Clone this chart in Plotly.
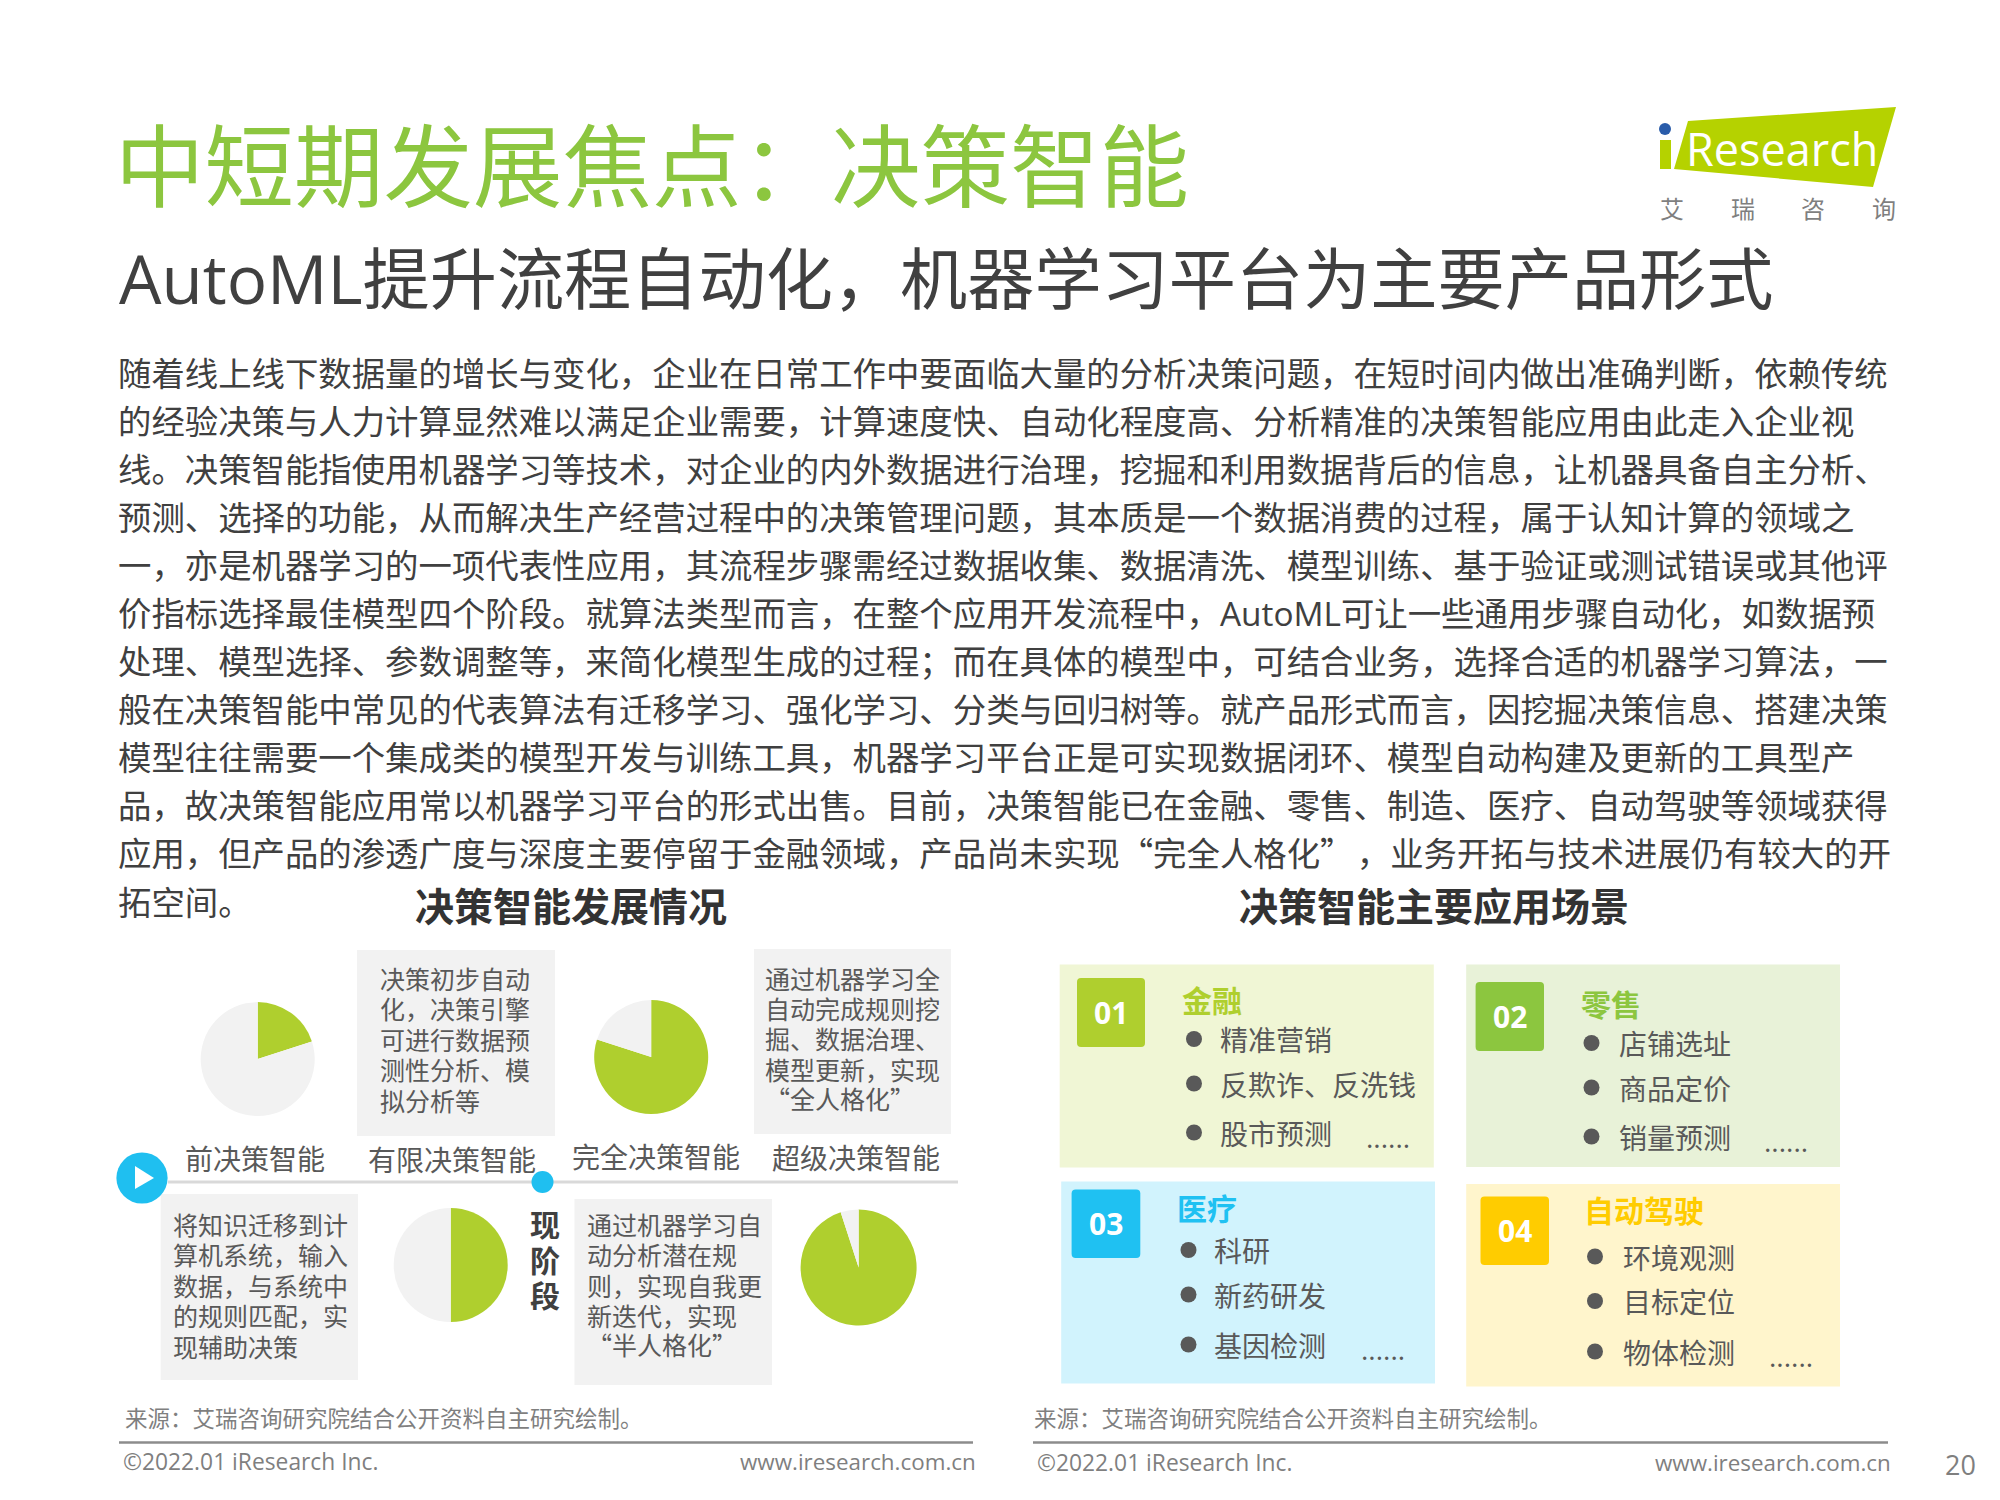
# plot.py - decision intelligence slide, iResearch
import plotly.graph_objects as go

W = 2000
H = 1500
FONT = "Open Sans, Noto Sans CJK SC"
GREEN = "#AFCF2E"
GREY = "#F2F2F2"
TXT = "#404040"
ITEM = "#595959"

title = "中短期发展焦点：决策智能"
subtitle = "AutoML提升流程自动化，机器学习平台为主要产品形式"
body_lines = [
    "随着线上线下数据量的增长与变化，企业在日常工作中要面临大量的分析决策问题，在短时间内做出准确判断，依赖传统",
    "的经验决策与人力计算显然难以满足企业需要，计算速度快、自动化程度高、分析精准的决策智能应用由此走入企业视",
    "线。决策智能指使用机器学习等技术，对企业的内外数据进行治理，挖掘和利用数据背后的信息，让机器具备自主分析、",
    "预测、选择的功能，从而解决生产经营过程中的决策管理问题，其本质是一个数据消费的过程，属于认知计算的领域之",
    "一，亦是机器学习的一项代表性应用，其流程步骤需经过数据收集、数据清洗、模型训练、基于验证或测试错误或其他评",
    "价指标选择最佳模型四个阶段。就算法类型而言，在整个应用开发流程中，AutoML可让一些通用步骤自动化，如数据预",
    "处理、模型选择、参数调整等，来简化模型生成的过程；而在具体的模型中，可结合业务，选择合适的机器学习算法，一",
    "般在决策智能中常见的代表算法有迁移学习、强化学习、分类与回归树等。就产品形式而言，因挖掘决策信息、搭建决策",
    "模型往往需要一个集成类的模型开发与训练工具，机器学习平台正是可实现数据闭环、模型自动构建及更新的工具型产",
    "品，故决策智能应用常以机器学习平台的形式出售。目前，决策智能已在金融、零售、制造、医疗、自动驾驶等领域获得",
    "应用，但产品的渗透广度与深度主要停留于金融领域，产品尚未实现“完全人格化”\u200a，业务开拓与技术进展仍有较大的开",
    "拓空间。",
]

stages = ["前决策智能", "有限决策智能", "完全决策智能", "超级决策智能"]
stage_share = [20, 50, 80, 95]  # green part of each pie, percent

desc_limited = ["决策初步自动", "化，决策引擎", "可进行数据预", "测性分析、模", "拟分析等"]
desc_super = ["通过机器学习全", "自动完成规则挖", "掘、数据治理、", "模型更新，实现", "“全人格化”"]
desc_pre = ["将知识迁移到计", "算机系统，输入", "数据，与系统中", "的规则匹配，实", "现辅助决策"]
desc_full = ["通过机器学习自", "动分析潜在规", "则，实现自我更", "新迭代，实现", "“半人格化”"]

card_names = ["金融", "零售", "医疗", "自动驾驶"]
card_items = [
    ["精准营销", "反欺诈、反洗钱", "股市预测"],
    ["店铺选址", "商品定价", "销量预测"],
    ["科研", "新药研发", "基因检测"],
    ["环境观测", "目标定位", "物体检测"],
]
card_nums = ["01", "02", "03", "04"]
card_bg = ["#F0F6D5", "#E8F2D8", "#D1F3FD", "#FFF5CC"]
card_col = ["#AFCF2E", "#8CC63F", "#1FC1F2", "#FFCC00"]

source = "来源：艾瑞咨询研究院结合公开资料自主研究绘制。"
copyright_txt = "©2022.01 iResearch Inc."
site = "www.iresearch.com.cn"

annotations = []
shapes = []


def wide_quotes(text):
    # Open Sans has narrow curly quotes, the slide uses the full width ones
    for q in "“”":
        text = text.replace(q, "<span style=\"font-family:'Noto Sans CJK SC'\">" + q + "</span>")
    return text


def label(x, y, text, size, color=TXT, anchor="left", bold=False, family=FONT):
    if "“" in text:
        y -= 2.5  # the CJK span makes the line box taller, text sits lower
    text = wide_quotes(text)
    if bold:
        text = "<b>" + text + "</b>"
    annotations.append(dict(x=x, y=y, xref="x", yref="y", text=text, showarrow=False,
                            xanchor=anchor, yanchor="middle", align=anchor,
                            font=dict(size=size, color=color, family=family)))


def box(x0, y0, x1, y1, color):
    shapes.append(dict(type="rect", x0=x0, y0=y0, x1=x1, y1=y1, xref="x", yref="y",
                       fillcolor=color, line_width=0, layer="below"))


def rounded(x0, y0, x1, y1, r, color):
    p = (f"M{x0+r},{y0} L{x1-r},{y0} Q{x1},{y0} {x1},{y0+r} L{x1},{y1-r} Q{x1},{y1} {x1-r},{y1} "
         f"L{x0+r},{y1} Q{x0},{y1} {x0},{y1-r} L{x0},{y0+r} Q{x0},{y0} {x0+r},{y0} Z")
    shapes.append(dict(type="path", path=p, xref="x", yref="y", fillcolor=color, line_width=0))


def circle(cx, cy, r, color):
    shapes.append(dict(type="circle", x0=cx-r, y0=cy-r, x1=cx+r, y1=cy+r, xref="x", yref="y",
                       fillcolor=color, line_width=0))


def hline(x0, x1, y, color, width):
    shapes.append(dict(type="line", x0=x0, x1=x1, y0=y, y1=y, xref="x", yref="y",
                       line=dict(color=color, width=width)))


fig = go.Figure()

# header
label(113, 165, title, 89.5, "#8CC63F")
label(117, 278, subtitle, 67.2, TXT)
for i, line in enumerate(body_lines):
    label(115.5, 372.5 + i * 48.1, line, 33.4, TXT)

# logo
shapes.append(dict(type="path", path="M1688,121 L1896,107 L1873,187 L1674,169 Z", xref="x", yref="y",
                   fillcolor="#B5D200", line_width=0))
box(1660, 140, 1671, 169, "#B5D200")
circle(1665, 129, 6, "#2A5CAA")
label(1684, 148, "Research", 45, "white")
for cx, ch in zip([1672, 1743, 1813, 1884], "艾瑞咨询"):
    label(cx, 208, ch, 24, "#7F7F7F", anchor="center")

# left panel
label(571, 905, "决策智能发展情况", 39, "#333333", anchor="center", bold=True)
pie_pos = [(257.7, 1059.1, 57), (450.7, 1265, 57), (651.2, 1057.1, 57), (858.6, 1267.5, 58)]
for share, (cx, cy, r) in zip(stage_share, pie_pos):
    fig.add_trace(go.Pie(values=[share, 100 - share], sort=False, direction="clockwise", rotation=0,
                         textinfo="none", hoverinfo="skip", showlegend=False,
                         marker=dict(colors=[GREEN, GREY], line=dict(width=0)),
                         domain=dict(x=[(cx - r) / W, (cx + r) / W], y=[1 - (cy + r) / H, 1 - (cy - r) / H])))

box(357, 950, 555, 1136, GREY)
box(754, 949, 951, 1134, GREY)
box(160.7, 1194, 358, 1380, GREY)
box(574.5, 1199, 772, 1385, GREY)
for x, ys, lines in [(378, 979, desc_limited), (762.6, 978.5, desc_super), (170.6, 1225, desc_pre), (585, 1225, desc_full)]:
    for i, line in enumerate(lines):
        label(x, ys + i * 30.4, line, 25, ITEM)

for s, (x, y) in zip(stages, [(255, 1158.5), (451.5, 1159.5), (655.5, 1156.5), (855.5, 1157.5)]):
    label(x, y, s, 28, ITEM, anchor="center")

hline(168, 958, 1182, "#D9D9D9", 3)
circle(142, 1178, 25.6, "#1FBFF0")
shapes.append(dict(type="path", path="M135,1166 L154,1178 L135,1189 Z", xref="x", yref="y",
                   fillcolor="white", line_width=0))
circle(542.5, 1182, 11, "#1FBFF0")
for ch, y in zip("现阶段", [1224, 1260.8, 1295]):
    label(545, y, ch, 30, "#404040", anchor="center", bold=True)

# right panel
label(1434, 905, "决策智能主要应用场景", 39, "#333333", anchor="center", bold=True)
card_rect = [(1059.7, 964.6, 1433.8, 1167.6), (1466.2, 964.6, 1840, 1167), (1061.2, 1181.5, 1435, 1383.5), (1466.2, 1184, 1840, 1386.5)]
tile_rect = [(1077, 978, 1145, 1047), (1475.6, 982, 1544, 1051), (1071.6, 1189.5, 1140.3, 1258), (1480.5, 1196.5, 1549, 1265)]
head_pos = [(1179.6, 1000.5), (1578.5, 1004.5), (1174.5, 1208.5), (1582, 1210.5)]
text_x = [1218, 1616.5, 1212, 1621]
bullet_x = [1194, 1591.5, 1188.5, 1595]
item_y = [[1040, 1084.5, 1133.5], [1044, 1088.5, 1137.5], [1251, 1295.5, 1345.5], [1257.5, 1302, 1352.5]]
dots_x = [1364, 1762, 1359, 1767]

bx = []
by = []
for i in range(4):
    box(*card_rect[i], card_bg[i])
    x0, y0, x1, y1 = tile_rect[i]
    rounded(x0, y0, x1, y1, 4, card_col[i])
    label((x0 + x1) / 2, (y0 + y1) / 2, card_nums[i], 30, "white", anchor="center", bold=True)
    label(head_pos[i][0], head_pos[i][1], card_names[i], 30, card_col[i], bold=True)
    for item, y in zip(card_items[i], item_y[i]):
        label(text_x[i], y, item, 28, ITEM)
        bx.append(bullet_x[i])
        by.append(y - 1)
    label(dots_x[i], item_y[i][2] + 3.5, "......", 28, ITEM)

fig.add_trace(go.Scatter(x=bx, y=by, mode="markers", hoverinfo="skip", showlegend=False,
                         marker=dict(size=16, color=ITEM)))

# footers
for x0, x1 in [(119, 973), (1033, 1888)]:
    hline(x0, x1, 1442.6, "#8C8C8C", 2.5)
label(122.6, 1418.7, source, 22.5, "#7F7F7F")
label(1032, 1418.7, source, 22.5, "#7F7F7F")
label(121, 1461.5, copyright_txt, 22.8, "#7F7F7F")
label(1035, 1462.5, copyright_txt, 22.8, "#7F7F7F")
label(977.5, 1461.5, site, 22.4, "#7F7F7F", anchor="right")
label(1893, 1462.5, site, 22.4, "#7F7F7F", anchor="right")
label(1978, 1464.5, "20", 27, "#7F7F7F", anchor="right")

fig.update_layout(
    width=W, height=H, margin=dict(l=0, r=0, t=0, b=0),
    paper_bgcolor="white", plot_bgcolor="white",
    xaxis=dict(range=[0, W], visible=False, fixedrange=True),
    yaxis=dict(range=[H, 0], visible=False, fixedrange=True),
    shapes=shapes, annotations=annotations,
)

# page body has a default 8px margin that would push the slide off position
fig.write_html("out.html", config=dict(displayModeBar=False),
               post_script="document.body.style.margin='0';")
